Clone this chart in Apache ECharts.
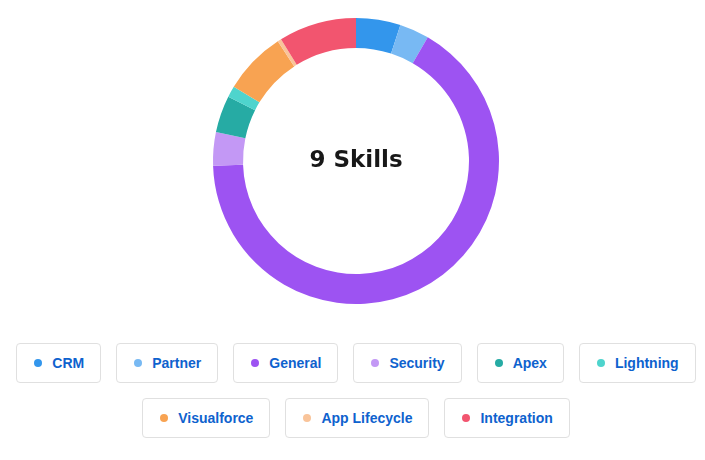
<!DOCTYPE html>
<html>
<head>
<meta charset="utf-8">
<script src="https://cdn.jsdelivr.net/npm/echarts@6/dist/echarts.min.js"></script>
<style>
html,body{margin:0;padding:0;background:#fff;width:705px;height:460px;overflow:hidden;}
#chart{position:absolute;left:0;top:0;width:705px;height:330px;}
#legend{position:absolute;left:0;top:343px;width:712px;display:flex;flex-wrap:wrap;justify-content:center;gap:15px;font-family:"Liberation Sans",Arial,sans-serif;}
.item{box-sizing:border-box;height:40px;border:1px solid #e0e0e0;border-radius:4px;display:flex;align-items:center;padding:0 16px 0 17px;font-size:14px;font-weight:bold;color:#0e62ce;background:#fff;}
.dot{width:8px;height:8px;border-radius:50%;margin-right:10px;flex:none;}
</style>
</head>
<body>
<div id="chart"></div>
<div id="legend"></div>
<script>
const categories = ["CRM","Partner","General","Security","Apex","Lightning","Visualforce","App Lifecycle","Integration"];
const values = [12, 8, 158, 9, 10, 3, 17, 1, 21];
const colors = ["#3396ec","#78b9f3","#9d53f2","#c398f5","#26aba4","#4ed4cd","#f8a352","#f9c49a","#f2556f"];
const centerText = "9 Skills";

const chart = echarts.init(document.getElementById('chart'), null, {renderer:'canvas'});
chart.setOption({
  animation:false,
  color: colors,
  graphic:[{
    type:'text',
    x: 356,
    y: 161,
    style:{
      text: centerText,
      align:'center',
      verticalAlign:'middle',
      font: 'bold 23px "DejaVu Sans", sans-serif',
      fill:'#181818'
    }
  }],
  series:[{
    type:'pie',
    center:[356,161],
    radius:[113,143],
    startAngle:90,
    clockwise:true,
    label:{show:false},
    labelLine:{show:false},
    emphasis:{disabled:true},
    itemStyle:{borderWidth:0},
    data: categories.map((c,i)=>({name:c,value:values[i]}))
  }]
});

const lg = document.getElementById('legend');
categories.forEach((c,i)=>{
  const d = document.createElement('div');
  d.className='item';
  const dot = document.createElement('span');
  dot.className='dot';
  dot.style.background = colors[i];
  const t = document.createElement('span');
  t.textContent = c;
  d.appendChild(dot); d.appendChild(t);
  lg.appendChild(d);
});
</script>
</body>
</html>
